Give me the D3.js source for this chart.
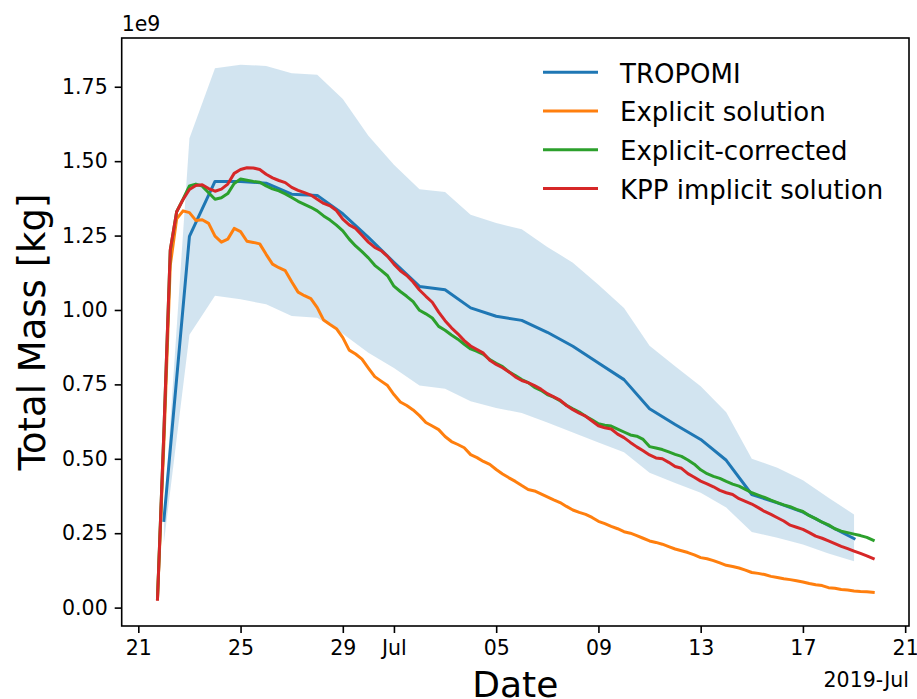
<!DOCTYPE html>
<html>
<head>
<meta charset="utf-8">
<script src="https://cdn.jsdelivr.net/npm/d3@7"></script>
<style>
  body { margin: 0; background: #fff; }
  svg { display: block; }
  text { font-family: "DejaVu Sans", sans-serif; fill: #000; }
</style>
</head>
<body>
<svg id="chart" width="917" height="699"></svg>
<script>
// ---- data (values in units of 1e9 kg) ----

// TROPOMI: daily, 2019-06-22 .. 2019-07-19
const tropomiStart = Date.UTC(2019, 5, 22);
const tropomi = [0.293, 1.247, 1.432, 1.432, 1.426, 1.389, 1.385, 1.323, 1.244, 1.160,
  1.079, 1.068, 1.007, 0.979, 0.965, 0.925, 0.878, 0.822, 0.766, 0.668,
  0.615, 0.565, 0.495, 0.380, 0.352, 0.321, 0.276, 0.232];
const tropomiUpper = [0.300, 1.577, 1.812, 1.824, 1.820, 1.795, 1.790, 1.709, 1.585, 1.488,
  1.406, 1.396, 1.320, 1.292, 1.271, 1.212, 1.159, 1.085, 1.007, 0.880,
  0.811, 0.744, 0.656, 0.500, 0.470, 0.428, 0.369, 0.313];
const tropomiLower = [0.218, 0.917, 1.048, 1.036, 1.019, 0.980, 0.974, 0.920, 0.856, 0.805,
  0.746, 0.735, 0.693, 0.671, 0.654, 0.622, 0.588, 0.555, 0.522, 0.453,
  0.419, 0.386, 0.336, 0.254, 0.235, 0.212, 0.182, 0.156];

// model output: every 6 h from 2019-06-21 18:00
const modelStart = Date.UTC(2019, 5, 21, 18);
const modelStepHours = 6;
const explicitSol = [0.030, 0.550, 1.150, 1.306, 1.333, 1.327, 1.301, 1.303, 1.291, 1.248,
  1.228, 1.238, 1.274, 1.263, 1.231, 1.227, 1.222, 1.187, 1.154, 1.142,
  1.132, 1.095, 1.060, 1.048, 1.038, 1.008, 0.966, 0.951, 0.937, 0.907,
  0.865, 0.852, 0.835, 0.805, 0.776, 0.761, 0.746, 0.716, 0.691, 0.679,
  0.664, 0.645, 0.622, 0.610, 0.598, 0.575, 0.558, 0.548, 0.537, 0.514,
  0.504, 0.491, 0.481, 0.464, 0.449, 0.436, 0.424, 0.410, 0.397, 0.392,
  0.382, 0.372, 0.362, 0.353, 0.340, 0.328, 0.320, 0.313, 0.303, 0.290,
  0.282, 0.273, 0.265, 0.255, 0.250, 0.242, 0.233, 0.224, 0.219, 0.213,
  0.205, 0.197, 0.191, 0.185, 0.177, 0.168, 0.164, 0.158, 0.150, 0.142,
  0.138, 0.133, 0.126, 0.118, 0.115, 0.111, 0.105, 0.101, 0.097, 0.094,
  0.090, 0.086, 0.081, 0.077, 0.074, 0.067, 0.065, 0.061, 0.059, 0.056,
  0.054, 0.053, 0.051];
const explicitCorr = [0.030, 0.590, 1.200, 1.330, 1.372, 1.417, 1.423, 1.416, 1.394, 1.372,
  1.377, 1.391, 1.425, 1.440, 1.436, 1.432, 1.429, 1.417, 1.407, 1.400,
  1.390, 1.378, 1.365, 1.355, 1.345, 1.333, 1.316, 1.302, 1.285, 1.266,
  1.238, 1.215, 1.196, 1.175, 1.150, 1.133, 1.115, 1.080, 1.062, 1.046,
  1.028, 0.999, 0.987, 0.973, 0.945, 0.932, 0.916, 0.902, 0.885, 0.869,
  0.861, 0.851, 0.833, 0.821, 0.810, 0.792, 0.780, 0.766, 0.756, 0.740,
  0.730, 0.716, 0.707, 0.695, 0.680, 0.668, 0.657, 0.643, 0.631, 0.618,
  0.613, 0.610, 0.600, 0.590, 0.580, 0.576, 0.565, 0.541, 0.536, 0.531,
  0.523, 0.515, 0.508, 0.496, 0.482, 0.463, 0.450, 0.441, 0.434, 0.424,
  0.415, 0.408, 0.397, 0.386, 0.378, 0.370, 0.361, 0.353, 0.345, 0.339,
  0.330, 0.323, 0.309, 0.299, 0.287, 0.278, 0.265, 0.257, 0.252, 0.247,
  0.242, 0.236, 0.226];
const kppImplicit = [0.028, 0.590, 1.202, 1.330, 1.371, 1.405, 1.418, 1.421, 1.408, 1.399,
  1.406, 1.423, 1.459, 1.472, 1.478, 1.477, 1.472, 1.456, 1.444, 1.435,
  1.428, 1.412, 1.402, 1.394, 1.386, 1.372, 1.358, 1.350, 1.334, 1.305,
  1.286, 1.274, 1.251, 1.228, 1.210, 1.199, 1.180, 1.154, 1.132, 1.116,
  1.094, 1.067, 1.046, 1.026, 0.993, 0.964, 0.940, 0.920, 0.897, 0.879,
  0.867, 0.855, 0.831, 0.817, 0.806, 0.792, 0.775, 0.763, 0.756, 0.746,
  0.734, 0.719, 0.708, 0.697, 0.679, 0.665, 0.653, 0.643, 0.627, 0.611,
  0.604, 0.600, 0.583, 0.571, 0.555, 0.540, 0.527, 0.513, 0.503, 0.500,
  0.488, 0.474, 0.468, 0.450, 0.438, 0.425, 0.416, 0.406, 0.394, 0.386,
  0.380, 0.366, 0.357, 0.348, 0.336, 0.323, 0.313, 0.302, 0.291, 0.277,
  0.270, 0.263, 0.252, 0.240, 0.233, 0.224, 0.215, 0.206, 0.198, 0.190,
  0.182, 0.174, 0.165];

const seriesNames = ["TROPOMI", "Explicit solution", "Explicit-corrected", "KPP implicit solution"];
const seriesColors = ["#1f77b4", "#ff7f0e", "#2ca02c", "#d62728"];

const yTicks = [0, 0.25, 0.5, 0.75, 1.0, 1.25, 1.5, 1.75];
const xTickDates = ["2019-06-21", "2019-06-25", "2019-06-29", "2019-07-01", "2019-07-05",
  "2019-07-09", "2019-07-13", "2019-07-17", "2019-07-21"];
const xTickLabels = ["21", "25", "29", "Jul", "05", "09", "13", "17", "21"];

// ---- layout ----
const svg = d3.select("#chart");
const margin = { left: 121.7, right: 917 - 909, top: 38, bottom: 699 - 626 };
const W = 917 - margin.left - margin.right;
const H = 699 - margin.top - margin.bottom;
const g = svg.append("g").attr("transform", `translate(${margin.left},${margin.top})`);

const DAY = 864e5;
const tropTimes = tropomi.map((_, i) => new Date(tropomiStart + i * DAY));
const modelTimes = explicitSol.map((_, i) => new Date(modelStart + i * modelStepHours * 3600e3));

// matplotlib-like 5% margins
const tExt = d3.extent(modelTimes.concat(tropTimes));
const tPad = (tExt[1] - tExt[0]) * 0.05;
const x = d3.scaleUtc()
  .domain([new Date(+tExt[0] - tPad), new Date(+tExt[1] + tPad)])
  .range([0, W]);

const allVals = [].concat(tropomiUpper, tropomiLower, explicitSol, explicitCorr, kppImplicit, tropomi);
const vExt = d3.extent(allVals);
const vPad = (vExt[1] - vExt[0]) * 0.05;
const y = d3.scaleLinear().domain([vExt[0] - vPad, vExt[1] + vPad]).range([H, 0]);

// ---- band ----
const band = d3.area()
  .x((d, i) => x(tropTimes[i]))
  .y0((d, i) => y(tropomiLower[i]))
  .y1(d => y(d));
g.append("path")
  .datum(tropomiUpper)
  .attr("d", band)
  .attr("fill", seriesColors[0])
  .attr("fill-opacity", 0.2);

// ---- lines ----
const lineOf = times => d3.line().x((d, i) => x(times[i])).y(d => y(d));
const lines = [
  { data: tropomi, times: tropTimes },
  { data: explicitSol, times: modelTimes },
  { data: explicitCorr, times: modelTimes },
  { data: kppImplicit, times: modelTimes }
];
lines.forEach((s, k) => {
  g.append("path")
    .datum(s.data)
    .attr("d", lineOf(s.times))
    .attr("fill", "none")
    .attr("stroke", seriesColors[k])
    .attr("stroke-width", 3)
    .attr("stroke-linejoin", "round")
    .attr("stroke-linecap", "square");
});

// ---- axes ----
const fmtY = d3.format(".2f");
const yAxis = g.append("g")
  .call(d3.axisLeft(y).tickValues(yTicks).tickFormat(fmtY).tickSize(7).tickPadding(7));
const xAxis = g.append("g")
  .attr("transform", `translate(0,${H})`)
  .call(d3.axisBottom(x)
    .tickValues(xTickDates.map(s => new Date(s + "T00:00:00Z")))
    .tickFormat((d, i) => xTickLabels[i])
    .tickSize(7).tickPadding(7));
[xAxis, yAxis].forEach(a => {
  a.select(".domain").remove();
  a.selectAll(".tick line").attr("stroke", "#000").attr("stroke-width", 1.6);
  a.selectAll(".tick text").attr("font-size", "20.5px").attr("font-family", "DejaVu Sans, sans-serif");
});

// frame
g.append("rect")
  .attr("width", W).attr("height", H)
  .attr("fill", "none").attr("stroke", "#000").attr("stroke-width", 1.6);

// offset text and date offset
svg.append("text").attr("x", margin.left).attr("y", 31)
  .attr("font-size", "20.5px").text("1e9");
svg.append("text").attr("x", 909).attr("y", 687)
  .attr("text-anchor", "end").attr("font-size", "20.5px").text("2019-Jul");

// axis labels
svg.append("text")
  .attr("x", margin.left + W / 2).attr("y", 697)
  .attr("text-anchor", "middle").attr("font-size", "36px").text("Date");
svg.append("text")
  .attr("transform", `translate(45,${margin.top + H / 2}) rotate(-90)`)
  .attr("text-anchor", "middle").attr("font-size", "37px").text("Total Mass [kg]");

// ---- legend ----
const legend = svg.append("g").attr("transform", "translate(543,72.3)");
seriesNames.forEach((name, k) => {
  const row = legend.append("g").attr("transform", `translate(0,${k * 38.7})`);
  row.append("line").attr("x1", 0).attr("x2", 55)
    .attr("stroke", seriesColors[k]).attr("stroke-width", 3);
  row.append("text").attr("x", 77).attr("y", 10.4)
    .attr("font-size", "26px").text(name);
});
</script>
</body>
</html>
